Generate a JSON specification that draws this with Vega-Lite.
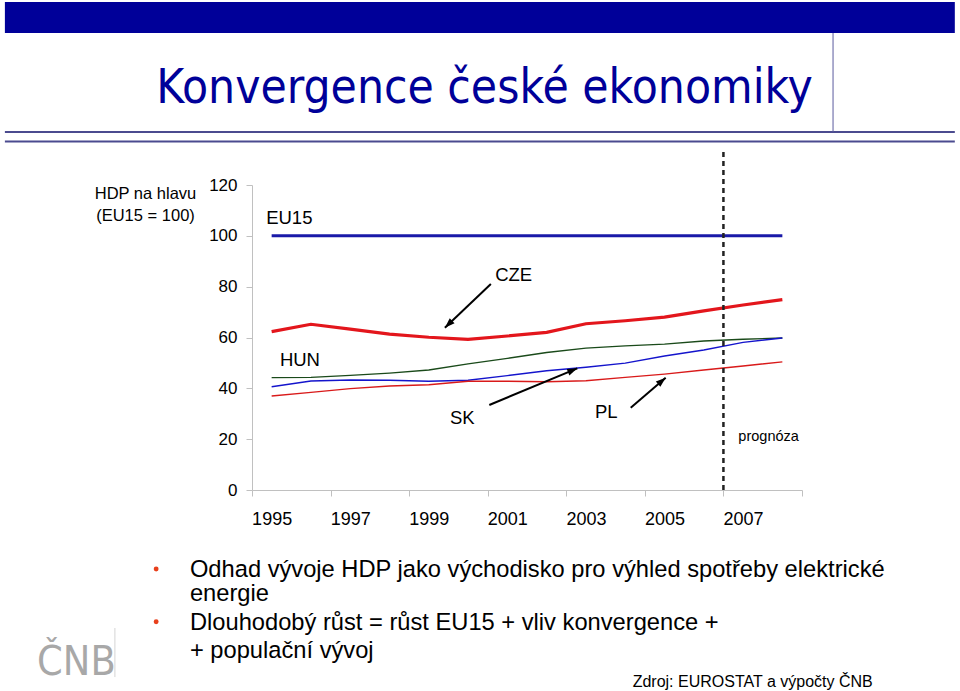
{
  "$schema": "https://vega.github.io/schema/vega-lite/v6.json",
  "width": 550,
  "height": 305,
  "autosize": {"type": "none"},
  "padding": {"left": 252, "top": 185, "right": 158, "bottom": 201},
  "background": "white",
  "config": {"view": {"stroke": null}, "font": "Liberation Sans"},
  "datasets": {
    "gdp": [
      {"year": 1995, "series": "EU15", "value": 100}, {"year": 1996, "series": "EU15", "value": 100},
      {"year": 1997, "series": "EU15", "value": 100}, {"year": 1998, "series": "EU15", "value": 100},
      {"year": 1999, "series": "EU15", "value": 100}, {"year": 2000, "series": "EU15", "value": 100},
      {"year": 2001, "series": "EU15", "value": 100}, {"year": 2002, "series": "EU15", "value": 100},
      {"year": 2003, "series": "EU15", "value": 100}, {"year": 2004, "series": "EU15", "value": 100},
      {"year": 2005, "series": "EU15", "value": 100}, {"year": 2006, "series": "EU15", "value": 100},
      {"year": 2007, "series": "EU15", "value": 100}, {"year": 2008, "series": "EU15", "value": 100},
      {"year": 1995, "series": "CZE", "value": 62.3}, {"year": 1996, "series": "CZE", "value": 65.2},
      {"year": 1997, "series": "CZE", "value": 63.3}, {"year": 1998, "series": "CZE", "value": 61.3},
      {"year": 1999, "series": "CZE", "value": 60.1}, {"year": 2000, "series": "CZE", "value": 59.3},
      {"year": 2001, "series": "CZE", "value": 60.6}, {"year": 2002, "series": "CZE", "value": 62.0},
      {"year": 2003, "series": "CZE", "value": 65.4}, {"year": 2004, "series": "CZE", "value": 66.6},
      {"year": 2005, "series": "CZE", "value": 68.0}, {"year": 2006, "series": "CZE", "value": 70.5},
      {"year": 2007, "series": "CZE", "value": 72.8}, {"year": 2008, "series": "CZE", "value": 74.9},
      {"year": 1995, "series": "HUN", "value": 44.2}, {"year": 1996, "series": "HUN", "value": 44.3},
      {"year": 1997, "series": "HUN", "value": 45.1}, {"year": 1998, "series": "HUN", "value": 46.0},
      {"year": 1999, "series": "HUN", "value": 47.2}, {"year": 2000, "series": "HUN", "value": 49.6},
      {"year": 2001, "series": "HUN", "value": 51.8}, {"year": 2002, "series": "HUN", "value": 54.1},
      {"year": 2003, "series": "HUN", "value": 55.8}, {"year": 2004, "series": "HUN", "value": 56.7},
      {"year": 2005, "series": "HUN", "value": 57.4}, {"year": 2006, "series": "HUN", "value": 58.6},
      {"year": 2007, "series": "HUN", "value": 59.3}, {"year": 2008, "series": "HUN", "value": 59.8},
      {"year": 1995, "series": "SK", "value": 40.6}, {"year": 1996, "series": "SK", "value": 42.9},
      {"year": 1997, "series": "SK", "value": 43.3}, {"year": 1998, "series": "SK", "value": 43.2},
      {"year": 1999, "series": "SK", "value": 42.8}, {"year": 2000, "series": "SK", "value": 43.2},
      {"year": 2001, "series": "SK", "value": 45.0}, {"year": 2002, "series": "SK", "value": 46.9},
      {"year": 2003, "series": "SK", "value": 48.3}, {"year": 2004, "series": "SK", "value": 49.9},
      {"year": 2005, "series": "SK", "value": 52.7}, {"year": 2006, "series": "SK", "value": 55.1},
      {"year": 2007, "series": "SK", "value": 58.1}, {"year": 2008, "series": "SK", "value": 59.8},
      {"year": 1995, "series": "PL", "value": 37.0}, {"year": 1996, "series": "PL", "value": 38.4},
      {"year": 1997, "series": "PL", "value": 39.9}, {"year": 1998, "series": "PL", "value": 40.9},
      {"year": 1999, "series": "PL", "value": 41.4}, {"year": 2000, "series": "PL", "value": 42.8},
      {"year": 2001, "series": "PL", "value": 42.8}, {"year": 2002, "series": "PL", "value": 42.6},
      {"year": 2003, "series": "PL", "value": 43.0}, {"year": 2004, "series": "PL", "value": 44.3},
      {"year": 2005, "series": "PL", "value": 45.6}, {"year": 2006, "series": "PL", "value": 47.2},
      {"year": 2007, "series": "PL", "value": 48.8}, {"year": 2008, "series": "PL", "value": 50.4}
    ],
    "labels": [
      {"text": "EU15", "x": 1994.86, "y": 106.9},
      {"text": "CZE", "x": 2000.69, "y": 84.6},
      {"text": "HUN", "x": 1995.21, "y": 51.2},
      {"text": "SK", "x": 1999.54, "y": 28.2},
      {"text": "PL", "x": 2003.23, "y": 30.8}
    ],
    "arrows": [
      {"label": "CZE", "x": 2000.58, "y": 81.05, "x2": 1999.41, "y2": 63.86},
      {"label": "SK", "x": 2000.54, "y": 33.44, "x2": 2002.78, "y2": 47.88},
      {"label": "PL", "x": 2004.14, "y": 32.38, "x2": 2005.03, "y2": 44.18}
    ],
    "one": [{}]
  },
  "layer": [
    {
      "data": {"name": "one"},
      "mark": {"type": "rect", "color": "#000099"},
      "encoding": {"x": {"datum": 1988.21}, "x2": {"datum": 2012.39}, "y": {"datum": 192.0}, "y2": {"datum": 179.8}}
    },
    {
      "data": {"name": "one"},
      "mark": {"type": "rule", "color": "#4b4b8f", "strokeWidth": 2},
      "encoding": {"x": {"datum": 1988.21}, "x2": {"datum": 2012.39}, "y": {"datum": 140.85}}
    },
    {
      "data": {"name": "one"},
      "mark": {"type": "rule", "color": "#4b4b8f", "strokeWidth": 2},
      "encoding": {"x": {"datum": 1988.21}, "x2": {"datum": 2012.39}, "y": {"datum": 137.11}}
    },
    {
      "data": {"name": "one"},
      "mark": {"type": "rule", "color": "#5a5a9e", "strokeWidth": 1},
      "encoding": {"x": {"datum": 2009.29}, "y": {"datum": 179.8}, "y2": {"datum": 140.85}}
    },
    {
      "data": {"name": "one"},
      "mark": {"type": "text", "text": "Konvergence české ekonomiky", "font": "DejaVu Sans Condensed, DejaVu Sans", "fontSize": 47.5, "color": "#000099", "align": "center", "baseline": "alphabetic"},
      "encoding": {"x": {"datum": 2000.42}, "y": {"datum": 152.26}}
    },
    {
      "data": {"name": "gdp"},
      "mark": {"type": "line", "clip": false},
      "encoding": {
        "x": {
          "field": "year", "type": "quantitative",
          "scale": {"domain": [1994.5, 2008.5], "nice": false, "zero": false},
          "axis": {
            "title": null,
            "values": [1994.5, 1995.5, 1996.5, 1997.5, 1998.5, 1999.5, 2000.5, 2001.5, 2002.5, 2003.5, 2004.5, 2005.5, 2006.5, 2007.5, 2008.5],
            "labelExpr": "(datum.value - 1994.5) % 2 == 0 && datum.value < 2008 ? format(datum.value + 0.5, 'd') : ''",
            "labelOffset": 19.64,
            "labelFont": "Liberation Sans",
            "labelFontSize": 18,
            "labelColor": "black",
            "labelPadding": 14,
            "labelFlush": false,
            "labelOverlap": false,
            "labelBound": false,
            "domainColor": "#c0c0c0",
            "tickColor": "#c0c0c0",
            "tickSize": 6,
            "grid": false
          }
        },
        "y": {
          "field": "value", "type": "quantitative",
          "scale": {"domain": [0, 120], "nice": false},
          "axis": {
            "values": [0, 20, 40, 60, 80, 100, 120],
            "title": ["HDP na hlavu", "(EU15 = 100)"],
            "titleAngle": 0,
            "titleAlign": "center",
            "titleBaseline": "alphabetic",
            "titleX": -107,
            "titleY": 13,
            "titleFont": "Liberation Sans",
            "titleFontWeight": "normal",
            "titleFontSize": 16.5,
            "titleLineHeight": 22,
            "titleColor": "black",
            "labelFont": "Liberation Sans",
            "labelFontSize": 17,
            "labelColor": "black",
            "labelPadding": 9,
            "tickSize": 6,
            "domainColor": "#c0c0c0",
            "tickColor": "#c0c0c0",
            "grid": false
          }
        },
        "color": {
          "field": "series", "type": "nominal",
          "scale": {"domain": ["EU15", "CZE", "HUN", "SK", "PL"], "range": ["#1a1aa8", "#e3161c", "#1a4a1a", "#1414cc", "#d91a1a"]},
          "legend": null
        },
        "strokeWidth": {
          "field": "series", "type": "nominal",
          "scale": {"type": "ordinal", "domain": ["EU15", "CZE", "HUN", "SK", "PL"], "range": [3, 3.2, 1.4, 1.4, 1.4]},
          "legend": null
        }
      }
    },
    {
      "data": {"name": "one"},
      "mark": {"type": "rule", "color": "#222222", "strokeWidth": 2.5, "strokeDash": [5, 4]},
      "encoding": {"x": {"datum": 2006.5}, "y": {"datum": 0}, "y2": {"datum": 133.0}}
    },
    {
      "data": {"name": "labels"},
      "mark": {"type": "text", "align": "left", "baseline": "middle", "fontSize": 18.5, "font": "Liberation Sans", "color": "black"},
      "encoding": {"x": {"field": "x", "type": "quantitative"}, "y": {"field": "y", "type": "quantitative"}, "text": {"field": "text"}}
    },
    {
      "data": {"name": "one"},
      "mark": {"type": "text", "text": "prognóza", "align": "left", "baseline": "middle", "fontSize": 14.5, "font": "Liberation Sans", "color": "black"},
      "encoding": {"x": {"datum": 2006.88}, "y": {"datum": 21.0}}
    },
    {
      "data": {"name": "arrows"},
      "mark": {"type": "rule", "color": "black", "strokeWidth": 2},
      "encoding": {"x": {"field": "x", "type": "quantitative"}, "y": {"field": "y", "type": "quantitative"}, "x2": {"field": "x2"}, "y2": {"field": "y2"}}
    },
    {
      "data": {"name": "arrows"},
      "transform": [{"filter": "datum.label == 'CZE'"}],
      "mark": {"type": "point", "shape": "M0,0L-0.7,2L0.7,2Z", "filled": true, "color": "black", "opacity": 1, "size": 100, "angle": 226.5},
      "encoding": {"x": {"field": "x2", "type": "quantitative"}, "y": {"field": "y2", "type": "quantitative"}}
    },
    {
      "data": {"name": "arrows"},
      "transform": [{"filter": "datum.label == 'SK'"}],
      "mark": {"type": "point", "shape": "M0,0L-0.7,2L0.7,2Z", "filled": true, "color": "black", "opacity": 1, "size": 100, "angle": 67.4},
      "encoding": {"x": {"field": "x2", "type": "quantitative"}, "y": {"field": "y2", "type": "quantitative"}}
    },
    {
      "data": {"name": "arrows"},
      "transform": [{"filter": "datum.label == 'PL'"}],
      "mark": {"type": "point", "shape": "M0,0L-0.7,2L0.7,2Z", "filled": true, "color": "black", "opacity": 1, "size": 100, "angle": 49.4},
      "encoding": {"x": {"field": "x2", "type": "quantitative"}, "y": {"field": "y2", "type": "quantitative"}}
    },
    {
      "data": {"name": "one"},
      "mark": {"type": "point", "shape": "circle", "filled": true, "color": "#e8401c", "opacity": 1, "size": 24},
      "encoding": {"x": {"datum": 1992.06}, "y": {"datum": -31.08}}
    },
    {
      "data": {"name": "one"},
      "mark": {"type": "point", "shape": "circle", "filled": true, "color": "#e8401c", "opacity": 1, "size": 24},
      "encoding": {"x": {"datum": 1992.06}, "y": {"datum": -51.82}}
    },
    {
      "data": {"name": "one"},
      "mark": {"type": "text", "text": ["Odhad vývoje HDP jako východisko pro výhled spotřeby elektrické", "energie"], "lineHeight": 23.7, "font": "Liberation Sans", "fontSize": 23.7, "color": "black", "align": "left", "baseline": "alphabetic"},
      "encoding": {"x": {"datum": 1992.92}, "y": {"datum": -34.35}}
    },
    {
      "data": {"name": "one"},
      "mark": {"type": "text", "text": ["Dlouhodobý růst = růst EU15 + vliv konvergence +", "+ populační vývoj"], "lineHeight": 28.3, "font": "Liberation Sans", "fontSize": 23.7, "color": "black", "align": "left", "baseline": "alphabetic"},
      "encoding": {"x": {"datum": 1992.92}, "y": {"datum": -55.08}}
    },
    {
      "data": {"name": "one"},
      "mark": {"type": "text", "text": "Zdroj: EUROSTAT a výpočty ČNB", "font": "Liberation Sans", "fontSize": 16, "color": "black", "align": "right", "baseline": "middle"},
      "encoding": {"x": {"datum": 2010.3}, "y": {"datum": -75.42}}
    },
    {
      "data": {"name": "one"},
      "mark": {"type": "text", "text": "ČNB", "font": "DejaVu Sans Condensed, Liberation Sans", "fontSize": 41, "color": "#a8a8a8", "align": "center", "baseline": "alphabetic"},
      "encoding": {"x": {"datum": 1990.03}, "y": {"datum": -72.79}}
    },
    {
      "data": {"name": "one"},
      "mark": {"type": "rule", "color": "#d4d4d4", "strokeWidth": 1},
      "encoding": {"x": {"datum": 1991.01}, "y": {"datum": -54.3}, "y2": {"datum": -73.6}}
    }
  ]
}
